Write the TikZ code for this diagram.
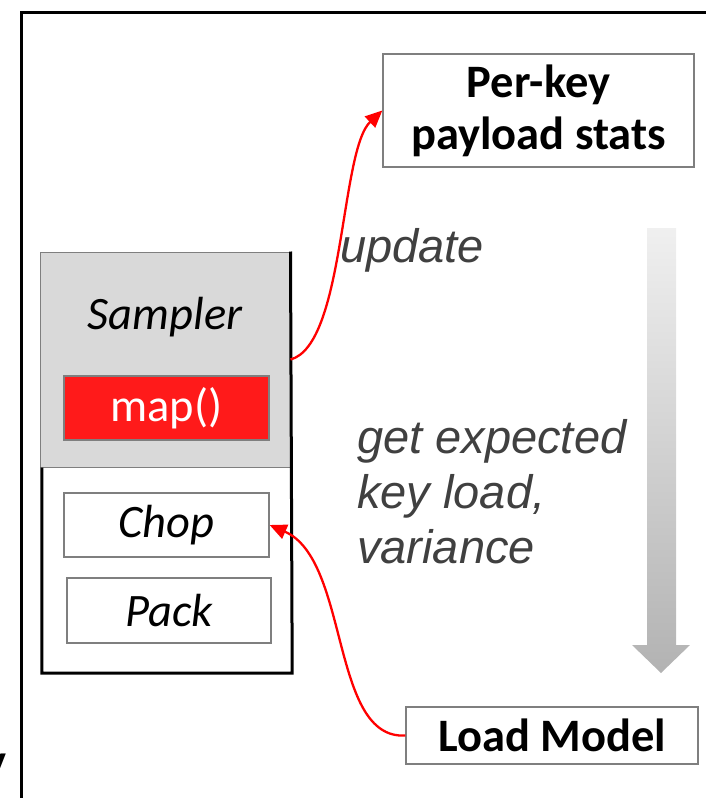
\documentclass[tikz,border=0pt]{standalone}
\usepackage{fontspec}
\setmainfont{Carlito}
\newfontfamily\labelfont{Liberation Sans}
\usetikzlibrary{arrows.meta}
\definecolor{boxgrey}{HTML}{7F7F7F}
\definecolor{samplergrey}{HTML}{D9D9D9}
\definecolor{mapred}{HTML}{FF1A1A}
\definecolor{labelgrey}{HTML}{404040}
\tikzset{
  box/.style={draw=boxgrey, line width=1.3pt, fill=white, inner sep=0pt, align=center},
  bigtext/.style={font=\fontsize{46.5}{52}\selectfont},
  itext/.style={font=\itshape\fontsize{46.5}{52}\selectfont},
  btext/.style={font=\bfseries\fontsize{46.5}{52}\selectfont},
  glabel/.style={font=\labelfont\itshape\fontsize{47}{55}\selectfont, text=labelgrey, inner sep=0pt, align=left},
  redarrow/.style={draw=red, line width=2.3pt, -{Triangle[length=17pt,width=15pt]}},
}
\begin{document}
\begin{tikzpicture}[x=1pt,y=-1pt]
\useasboundingbox (0,0) rectangle (706,798);
% frame
\draw[line width=3pt] (21,798) -- (21,12) -- (706,12);
\node[btext, anchor=base east, inner sep=0pt] (cut) at (7,776) {y};

% worker box
\node[minimum width=250pt, minimum height=421pt, inner sep=0pt] (worker) at (167,462.5) {};
\node[draw=boxgrey, line width=1pt, fill=samplergrey, minimum width=250pt, minimum height=215pt, inner sep=0pt] (sampler) at (165,359.5) {};
\draw[line width=3pt] (sampler.north east) -- (worker.south east) -- (worker.south west) -- (sampler.south west -| worker.west);
\node[itext] (samplertext) at (165,317) {Sampler};
\node[box, fill=mapred, text=white, bigtext, minimum width=205pt, minimum height=64pt] (map) at (166.5,408) {map()};
\node[box, itext, minimum width=205pt, minimum height=64pt] (chop) at (166.5,525) {Chop};
\node[box, itext, minimum width=204pt, minimum height=65pt] (pack) at (169,610.5) {Pack};

% right boxes
\node[box, btext, minimum width=311pt, minimum height=113pt] (perkey) at (538.5,110.5) {Per-key\\payload stats};
\node[box, btext, minimum width=292pt, minimum height=57pt] (loadmodel) at (552,735.5) {Load Model};

% labels
\node[glabel, anchor=west] (update) at (340,250) {update};
\node[glabel, anchor=north west] (expected) at (357,419) {get expected\\key load,\\variance};

% gradient arrow
\path[top color=gray!12, bottom color=gray!60, draw=none]
  (647,228) -- (676,228) -- (676,645) -- (690,645) -- (661,673) -- (632,645) -- (647,645) -- cycle;

% red connectors
\draw[redarrow] (sampler.east) .. controls (345,345) and (340,150) .. (perkey.west);
\draw[redarrow] (loadmodel.west) .. controls (330,740) and (350,560) .. (chop.east);
\end{tikzpicture}
\end{document}
